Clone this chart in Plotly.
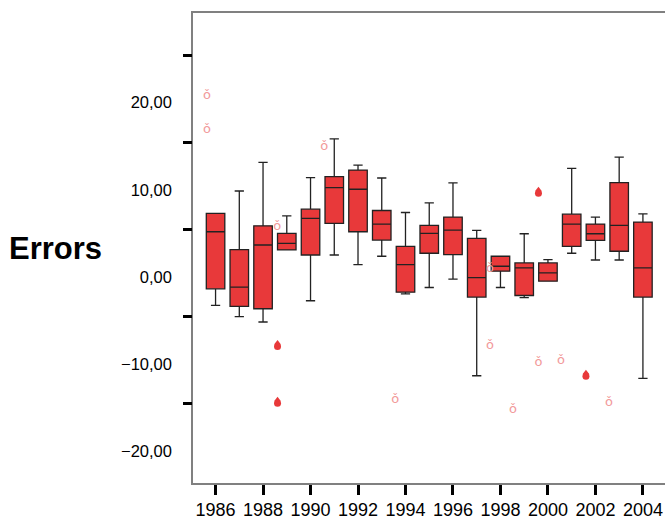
import plotly.graph_objects as go

# ---- data ----
years = list(range(1986, 2005))
q1 = [-1.37, -3.39, -3.66, 3.09, 2.51, 6.14, 5.18, 4.23, -1.75, 2.71, 2.55, -2.32, 0.65, -2.14, -0.49, 3.51, 4.19, 2.94, -2.32]
median = [5.18, -1.18, 3.66, 3.85, 6.71, 10.25, 10.06, 6.06, 1.41, 4.99, 5.37, -0.08, 1.22, 1.03, 0.46, 6.06, 4.95, 5.91, 1.03]
q3 = [7.28, 3.12, 5.86, 5.00, 7.77, 11.51, 12.26, 7.62, 3.51, 5.91, 6.86, 4.42, 2.37, 1.60, 1.60, 7.20, 6.06, 10.82, 6.29]
lower_whisker = [-3.28, -4.57, -5.18, 3.09, -2.74, 2.51, 1.41, 2.37, -1.94, -1.22, -0.26, -11.35, -1.22, -2.37, -0.49, 2.71, 1.94, 1.94, -11.66]
upper_whisker = [7.28, 9.86, 13.14, 7.00, 11.39, 15.85, 12.83, 11.35, 7.39, 8.49, 10.78, 5.34, 2.37, 4.95, 1.98, 12.46, 6.86, 13.75, 7.23]

# outliers (position along year axis, value)
outlier_x = [1985.64, 1985.64, 1988.6, 1990.58, 1993.57, 1997.56, 1997.56, 1998.53, 1999.6, 2000.55, 2002.57]
outlier_y = [20.8, 16.9, 5.71, 14.97, -14.06, 0.91, -7.89, -15.2, -9.83, -9.6, -14.4]
extreme_x = [1988.61, 1988.61, 1999.6, 1999.6, 2001.6]
extreme_y = [-8.0, -14.51, 9.6, -24.75, -11.4]

x_ticks = list(range(1986, 2005, 2))
y_ticks = [20, 10, 0, -10, -20]
y_ticklabels = ["20,00", "10,00", "0,00", "\u221210,00", "\u221220,00"]
extra_ticks = [25.4, 15.43, 5.41, -4.54, -14.51]

RED = "#E8393A"
FONT = "Liberation Sans"

fig = go.Figure()
fig.add_trace(go.Box(
    x=years, q1=q1, median=median, q3=q3,
    lowerfence=lower_whisker, upperfence=upper_whisker,
    fillcolor=RED, line=dict(color="#222222", width=1.3),
    width=0.78, whiskerwidth=0.5, boxpoints=False, showlegend=False,
    hoverinfo="skip",
))
fig.add_trace(go.Scatter(
    x=outlier_x, y=outlier_y, mode="text", text=["\u01D2"] * len(outlier_x),
    textfont=dict(family="DejaVu Sans", size=13, color="#F29A9A"),
    showlegend=False, cliponaxis=False, hoverinfo="skip",
))
# drop-shaped extreme markers: circle + small triangle on top
fig.add_trace(go.Scatter(
    x=extreme_x, y=extreme_y, mode="markers",
    marker=dict(symbol="circle", size=7, color=RED, line=dict(width=0)),
    showlegend=False, cliponaxis=False, hoverinfo="skip",
))
fig.add_trace(go.Scatter(
    x=extreme_x, y=[v + 0.4 for v in extreme_y], mode="markers",
    marker=dict(symbol="triangle-up", size=6, color=RED, line=dict(width=0)),
    showlegend=False, cliponaxis=False, hoverinfo="skip",
))
# invisible trace to carry the second (tick-only) y axis
fig.add_trace(go.Scatter(x=[1990], y=[0], yaxis="y2", mode="markers",
                         marker=dict(opacity=0), showlegend=False, hoverinfo="skip"))

yr = [-23.66, 30.29]
fig.update_layout(
    width=665, height=520,
    margin=dict(l=193, r=0, t=13, b=35),
    paper_bgcolor="white", plot_bgcolor="white",
    font=dict(family=FONT, color="black"),
    xaxis=dict(range=[1985.05, 2004.93], tickvals=x_ticks, ticktext=[str(v) for v in x_ticks],
               ticks="outside", ticklen=10, tickwidth=3, tickcolor="black",
               showline=True, linecolor="#808080", linewidth=1.5, mirror=True,
               showgrid=False, zeroline=False, tickfont=dict(size=18, family=FONT)),
    yaxis=dict(range=yr, tickvals=y_ticks, ticktext=y_ticklabels, ticks="",
               ticklabelstandoff=16,
               showline=True, linecolor="#808080", linewidth=1.5,
               showgrid=False, zeroline=False, tickfont=dict(size=16.5, family=FONT)),
    yaxis2=dict(range=yr, overlaying="y", side="left", tickvals=extra_ticks,
                ticks="outside", ticklen=9, tickwidth=3, tickcolor="black",
                showticklabels=False, showline=False, showgrid=False, zeroline=False),
    annotations=[dict(text="<b>Errors</b>", xref="paper", yref="paper", x=-0.395, y=0.5,
                      xanchor="left", yanchor="middle", showarrow=False,
                      font=dict(size=31, family=FONT, color="black"))],
)

fig.write_html("out.html")
